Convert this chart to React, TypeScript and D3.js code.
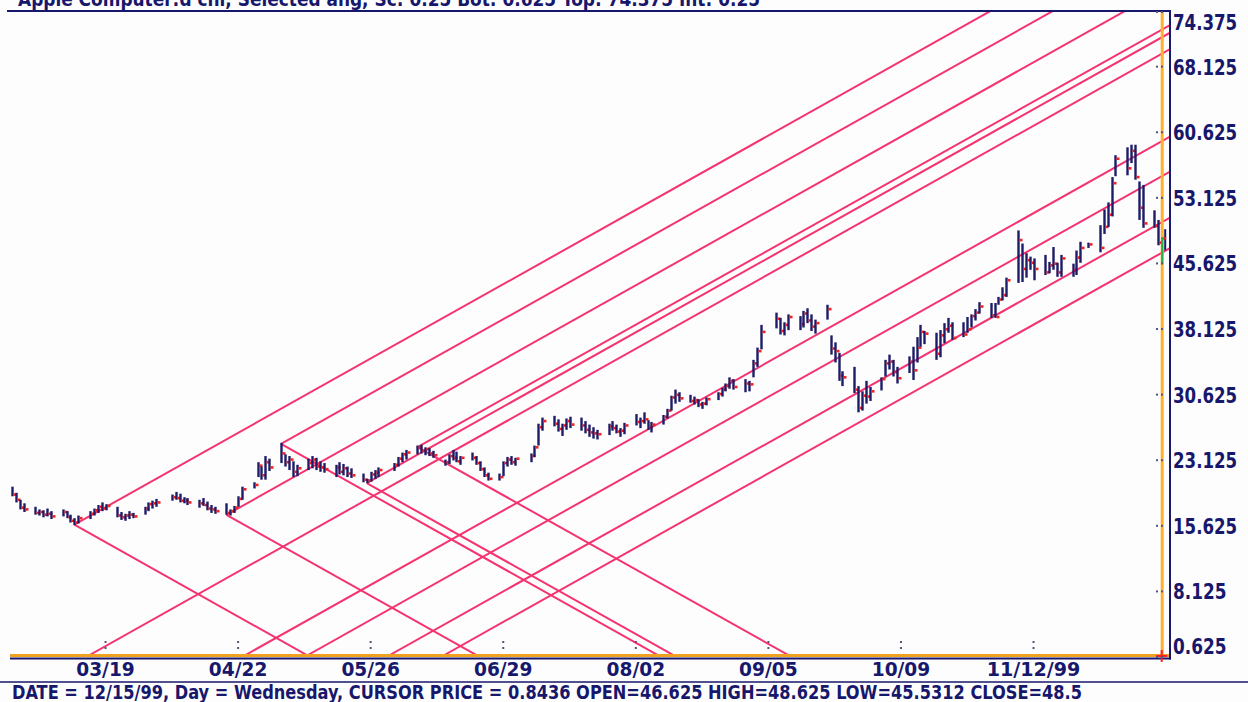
import * as d3 from "d3";

// trading calendar
const firstDay = "1999-02-23";
const lastDay = "1999-12-15";
const holidays = ["1999-04-02", "1999-05-31", "1999-07-05", "1999-09-06", "1999-11-25"];

// daily bars, one row per week
const highs = [
  20.1, 19.4, 18.6, 18.2,
  17.8, 17.5, 17.4, 17.6, 17.3,
  17.5, 17.3, 16.9, 16.5, 16.8,
  17.3, 17.6, 18.0, 18.3, 18.1,
  17.8, 17.2, 17.0, 17.3, 17.1,
  17.8, 18.3, 18.5, 18.7,
  19.2, 19.5, 19.3, 18.9, 18.8,
  18.6, 18.8, 18.4, 18.0, 17.8,
  18.2, 17.5, 17.9, 19.0, 20.1,
  20.6, 22.9, 22.4, 23.6, 23.3,
  25.1, 23.8, 23.6, 23.0, 22.6,
  23.3, 23.6, 23.4, 23.0, 22.8,
  22.6, 22.9, 22.7, 22.4, 22.2,
  21.6, 21.0, 21.8, 22.0, 22.3,
  22.8, 23.5, 24.0, 24.3,
  24.8, 24.9, 24.6, 24.5, 24.2,
  23.2, 23.8, 24.3, 24.1, 23.6,
  24.0, 23.6, 23.0, 22.3, 21.7,
  21.6, 23.0, 23.5, 23.6, 23.4,
  23.9, 24.8, 27.3, 28.0,
  28.2, 27.8, 27.3, 27.9, 28.1,
  28.0, 27.6, 27.2, 26.9, 26.6,
  27.3, 27.6, 27.2, 26.8, 27.4,
  28.4, 28.0, 28.6, 27.7, 27.5,
  28.3, 29.0, 30.5, 31.2, 30.9,
  30.6, 30.4, 30.1, 29.8, 30.3,
  30.9, 31.4, 31.9, 32.6, 32.4,
  32.4, 32.2, 34.6, 36.0, 38.6,
  40.0, 39.4, 38.9, 39.8,
  39.6, 40.2, 40.5, 39.8, 39.2,
  40.9, 37.4, 36.6, 35.4, 33.3,
  33.8, 31.6, 31.0, 32.2, 31.5,
  32.6, 34.6, 35.2, 34.6, 33.8,
  35.0, 36.1, 37.2, 38.6, 37.9,
  37.7, 38.0, 38.8, 39.4, 38.9,
  38.9, 39.5, 39.8, 40.4, 41.2,
  41.1, 41.1, 41.8, 42.9, 44.0,
  49.4, 47.9, 46.8, 46.4, 46.2,
  46.6, 45.8, 47.5, 45.7, 46.6,
  45.6, 47.1, 48.1, 48.0,
  50.0, 51.8, 52.6, 55.5, 58.0,
  58.9, 59.2, 59.2, 55.0, 54.6,
  51.7, 50.6, 48.625,
];
const lows = [
  19.0, 18.3, 17.5, 17.2,
  16.9, 16.8, 16.6, 16.7, 16.4,
  16.7, 16.5, 16.0, 15.7, 15.9,
  16.4, 16.8, 17.1, 17.3, 17.4,
  16.6, 16.3, 16.2, 16.4, 16.5,
  16.9, 17.3, 17.6, 17.8,
  18.5, 18.6, 18.3, 18.2, 18.0,
  17.7, 17.9, 17.4, 17.1, 17.0,
  16.9, 16.8, 17.1, 17.8, 18.6,
  19.9, 21.2, 20.9, 20.9, 21.9,
  22.8, 22.4, 22.0, 21.2, 21.3,
  22.0, 22.2, 22.0, 21.8, 21.7,
  21.2, 21.5, 21.4, 21.2, 21.1,
  20.6, 20.5, 20.7, 21.0, 21.2,
  21.9, 22.4, 22.9, 23.2,
  23.8, 23.9, 23.7, 23.6, 23.4,
  22.5, 22.7, 23.1, 22.9, 22.6,
  23.1, 22.6, 21.9, 21.2, 20.8,
  20.8, 21.3, 22.4, 22.6, 22.5,
  22.9, 23.5, 24.8, 26.5,
  27.0, 26.4, 25.9, 26.6, 26.8,
  26.5, 26.2, 25.8, 25.6, 25.5,
  26.0, 26.5, 26.2, 25.8, 26.1,
  27.1, 26.8, 27.3, 26.6, 26.3,
  27.2, 27.9, 28.8, 29.6, 29.8,
  29.7, 29.5, 29.2, 29.0, 29.4,
  30.0, 30.4, 31.0, 31.3, 31.2,
  30.9, 31.0, 32.6, 33.8, 35.8,
  38.2, 37.5, 37.4, 38.0,
  38.0, 38.3, 38.8, 37.9, 37.6,
  39.2, 35.2, 34.3, 32.2, 31.6,
  30.8, 28.6, 28.8, 29.6, 29.9,
  31.1, 32.7, 33.5, 32.7, 31.9,
  33.1, 32.3, 34.3, 36.1, 36.4,
  34.6, 34.9, 36.5, 37.7, 36.9,
  37.2, 37.7, 38.3, 39.1, 39.9,
  39.4, 39.4, 40.9, 41.4, 41.8,
  43.4, 43.5, 44.0, 44.9, 43.7,
  44.3, 44.5, 44.9, 44.1, 44.1,
  44.1, 44.3, 45.7, 47.4,
  46.9, 49.0, 49.8, 51.0, 55.6,
  55.7, 57.1, 55.2, 50.6, 49.7,
  49.7, 47.7, 45.5312,
];
const closes = [
  19.2, 18.6, 17.7, 17.5,
  17.1, 17.2, 16.9, 17.0, 16.7,
  17.2, 16.6, 16.2, 16.0, 16.5,
  17.0, 17.4, 17.8, 17.6, 17.9,
  16.8, 16.6, 16.8, 16.9, 16.7,
  17.6, 18.1, 18.2, 18.3,
  18.9, 18.8, 18.5, 18.5, 18.3,
  18.2, 18.0, 17.6, 17.5, 17.3,
  17.1, 17.3, 17.7, 18.7, 19.8,
  20.3, 22.5, 21.4, 22.9, 22.3,
  23.9, 22.9, 23.2, 21.8, 22.2,
  22.8, 23.2, 22.4, 22.3, 22.1,
  22.3, 21.8, 22.2, 21.6, 21.4,
  20.9, 20.8, 21.5, 21.7, 22.0,
  22.6, 23.3, 23.8, 24.0,
  24.6, 24.2, 24.4, 23.9, 23.7,
  22.9, 23.6, 23.4, 23.0, 23.4,
  23.4, 22.8, 22.1, 21.4, 21.0,
  21.2, 22.8, 23.2, 22.9, 23.3,
  23.6, 24.6, 26.9, 27.6,
  27.3, 26.7, 27.1, 27.6, 27.2,
  27.1, 26.6, 26.3, 26.2, 26.1,
  27.0, 26.8, 26.4, 26.5, 27.1,
  27.5, 27.6, 27.8, 26.9, 27.2,
  28.1, 28.8, 30.3, 30.6, 30.2,
  29.9, 30.0, 29.5, 29.6, 30.1,
  30.7, 31.2, 31.6, 32.2, 31.5,
  31.9, 31.8, 34.2, 35.6, 37.8,
  39.3, 37.9, 38.6, 39.5,
  38.7, 39.9, 39.1, 38.4, 38.8,
  40.4, 35.9, 35.6, 32.8, 32.6,
  31.2, 29.1, 30.5, 30.4, 31.0,
  32.4, 34.2, 34.4, 33.2, 32.5,
  34.4, 33.4, 36.0, 37.8, 37.6,
  35.3, 37.4, 38.1, 38.5, 37.1,
  37.5, 38.1, 39.6, 40.0, 40.7,
  39.7, 39.5, 41.5, 42.0, 43.7,
  48.3, 45.0, 46.0, 45.7, 45.0,
  44.6, 45.4, 45.6, 44.6, 46.2,
  44.9, 46.3, 47.4, 47.8,
  47.4, 49.8, 51.2, 54.8, 57.6,
  56.5, 58.5, 55.5, 52.0, 50.2,
  49.9, 48.0, 48.5,
];

// axes
const priceTicks = [0.625, 8.125, 15.625, 23.125, 30.625, 38.125, 45.625, 53.125, 60.625, 68.125, 74.375];
const dateTicks = ["1999-03-19", "1999-04-22", "1999-05-26", "1999-06-29", "1999-08-02", "1999-09-05", "1999-10-09", "1999-11-12"];
const dateLabels = ["03/19", "04/22", "05/26", "06/29", "08/02", "09/05", "10/09", "11/12/99"];

// gann 1x1 angles (0.25 per day)
const angleStep = 0.25;
const upPivotDates = ["1999-03-11", "1999-04-19", "1999-05-03", "1999-05-25", "1999-06-07"];
const upPivotPrices = [15.75, 16.875, 25.0, 20.5, 24.625];
const baseStartDates = ["1999-03-14", "1999-04-23", "1999-05-09", "1999-05-30", "1999-06-13"];
const downPivotDates = ["1999-03-11", "1999-04-19", "1999-05-03", "1999-05-25", "1999-06-07"];
const downPivotPrices = [15.75, 16.875, 25.0, 20.5, 24.625];

const cursorDate = "1999-12-15";
const titleText = "Apple Computer:d chl, Selected ang, Sc: 0.25 Bot: 0.625 Top: 74.375 Int: 0.25";
const statusText = "DATE = 12/15/99, Day = Wednesday, CURSOR PRICE = 0.8436 OPEN=46.625 HIGH=48.625 LOW=45.5312 CLOSE=48.5";

const W = 1248;
const H = 702;
const left = 10;
const right = 1170;
const top = 12;
const bottom = 657;
const navy = "#17176b";
const pink = "#f5336f";
const font = '"Liberation Sans Narrow", "DejaVu Sans Condensed", "Arial Narrow", sans-serif';

const parse = d3.utcParse("%Y-%m-%d");
const fmt = d3.utcFormat("%Y-%m-%d");

export default function App() {
  const x = d3
    .scaleUtc()
    .domain([new Date(Date.UTC(1999, 1, 22, 12)), new Date(Date.UTC(1999, 11, 17))])
    .range([left, right]);
  const y = d3.scaleLinear().domain([0.625, 74.375]).range([bottom, top]);

  const days = d3.utcDay
    .range(parse(firstDay)!, d3.utcDay.offset(parse(lastDay)!, 1))
    .filter((d) => d.getUTCDay() % 6 !== 0 && !holidays.includes(fmt(d)));
  const bars = days.map((d, i) => ({ d, h: highs[i], l: lows[i], c: closes[i] }));

  const line = d3
    .line<[Date, number]>()
    .x((p) => x(p[0]))
    .y((p) => y(p[1]));
  const span = 400;
  const ray = (ds: string, p: number, dir: number): [Date, number][] => {
    const t0 = parse(ds)!;
    return [
      [t0, p],
      [d3.utcDay.offset(t0, span), p + dir * angleStep * span],
    ];
  };
  const rays = [
    ...upPivotDates.map((ds, i) => ray(ds, upPivotPrices[i], 1)),
    ...baseStartDates.map((ds) => ray(ds, 0.625, 1)),
    ...downPivotDates.map((ds, i) => ray(ds, downPivotPrices[i], -1)),
  ];

  const cx = x(parse(cursorDate)!);
  const last = bars[bars.length - 1];

  return (
    <svg
      width={W}
      height={H}
      style={{ position: "fixed", left: 0, top: 0, background: "#fdfdfe" }}
      fontFamily={font}
      fontWeight="bold"
    >
      <defs>
        <clipPath id="plot">
          <rect x={left} y={top} width={right - left} height={bottom - top} />
        </clipPath>
      </defs>
      <rect width={W} height={H} fill="#fdfdfe" />

      {/* title, cut by the top of the window */}
      <text x={18} y={6} fontSize={20} fill={navy} textLength={742} lengthAdjust="spacingAndGlyphs">
        {titleText}
      </text>
      <line x1={7} x2={right} y1={top - 1} y2={top - 1} stroke={navy} strokeWidth={2} />

      {/* gann lines */}
      <g clipPath="url(#plot)">
        {rays.map((r, i) => (
          <path key={i} d={line(r) ?? ""} fill="none" stroke={pink} strokeWidth={2} />
        ))}
      </g>

      {/* cursor */}
      <line x1={cx} x2={cx} y1={top} y2={bottom} stroke="#ffb02e" strokeWidth={3} />

      {/* hlc bars */}
      <g>
        {bars.slice(0, -1).map((b, i) => {
          const bx = Math.round(x(b.d)) + 0.5;
          return (
            <g key={i}>
              <line x1={bx} x2={bx} y1={y(b.h)} y2={y(b.l)} stroke="#1c1c68" strokeWidth={2.4} />
              <rect x={bx + 1} y={y(b.c) - 1.3} width={3} height={2.6} fill="#ee2424" />
            </g>
          );
        })}
        <line x1={cx} x2={cx} y1={y(last.h)} y2={y(last.l)} stroke="#22b24a" strokeWidth={2.2} />
        <line x1={cx + 3} x2={cx + 3} y1={y(last.h) - 8} y2={y(last.l) - 14} stroke="#1c1c68" strokeWidth={2} />
        <rect x={cx + 1} y={y(last.c) - 1.3} width={3} height={2.6} fill="#ee2424" />
      </g>

      {/* frame */}
      <rect x={left} y={bottom - 3} width={right - left} height={3} fill="#f0a21e" />
      <line x1={left} x2={right + 1} y1={bottom + 1.5} y2={bottom + 1.5} stroke={navy} strokeWidth={2} />
      <line x1={right} x2={right} y1={top - 2} y2={bottom + 2.5} stroke={navy} strokeWidth={2} />
      <line x1={cx - 6} x2={cx + 5} y1={bottom - 1} y2={bottom - 1} stroke="#ff2020" strokeWidth={2} />
      <line x1={cx - 0.5} x2={cx - 0.5} y1={bottom - 7} y2={bottom + 5} stroke="#ff2020" strokeWidth={2} />

      {/* price axis */}
      {priceTicks.map((v) => {
        const ty = y(v);
        const ly = Math.min(Math.max(ty, top + 10), bottom - 11);
        const label = String(v);
        return (
          <g key={v}>
            <rect x={1156} y={ty - 1} width={2} height={2} fill="#55557a" />
            <rect x={1161} y={ty - 1} width={2} height={2} fill="#55557a" />
            <text
              x={1173}
              y={ly}
              dy="0.36em"
              fontSize={22}
              fill={navy}
              textLength={label.length * 10.7}
              lengthAdjust="spacingAndGlyphs"
            >
              {label}
            </text>
          </g>
        );
      })}

      {/* date axis */}
      {dateTicks.map((ds, i) => {
        const tx = x(parse(ds)!);
        const label = dateLabels[i];
        return (
          <g key={ds}>
            <rect x={tx - 1} y={641} width={2} height={2} fill="#55557a" />
            <rect x={tx - 1} y={647} width={2} height={2} fill="#55557a" />
            <text
              x={tx}
              y={676}
              fontSize={19}
              fill={navy}
              textAnchor="middle"
              textLength={label.length * 11.7}
              lengthAdjust="spacingAndGlyphs"
            >
              {label}
            </text>
          </g>
        );
      })}

      {/* status line */}
      <line x1={0} x2={W} y1={682} y2={682} stroke={navy} strokeWidth={1.5} />
      <text x={12} y={699} fontSize={19} fill={navy} textLength={1070} lengthAdjust="spacingAndGlyphs">
        {statusText}
      </text>
    </svg>
  );
}
